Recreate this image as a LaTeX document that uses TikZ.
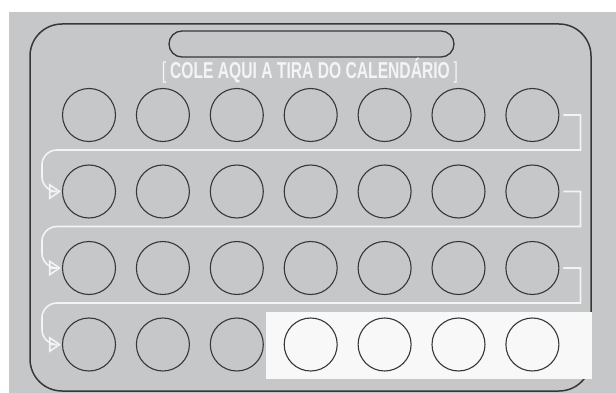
\documentclass[tikz,border=0pt]{standalone}
\usepackage{fontspec}
\newfontfamily\narrowsans[FakeStretch=0.68]{Liberation Sans}
\usepackage{xcolor}
\definecolor{calgray}{RGB}{198,199,201}
\definecolor{lineink}{RGB}{55,55,55}
\definecolor{linkwhite}{RGB}{244,244,244}
\definecolor{stripwhite}{RGB}{247,248,247}
\usetikzlibrary{arrows.meta, calc}

\begin{document}
\begin{tikzpicture}[x=1pt, y=-1pt,
  day/.style={circle, draw=lineink, line width=1.1pt, minimum size=53pt, inner sep=0pt},
  link/.style={draw=linkwhite, line width=1.6pt},
  slot/.style={draw=lineink, line width=1.3pt, rounded corners=13pt, minimum width=285pt, minimum height=26pt, inner sep=0pt}]
  % Page and card
  \fill[white] (0,0) rectangle (616,393);
  \useasboundingbox (0,0) rectangle (616,393);
  \fill[calgray] (9,12) rectangle (616,393);
  \draw[lineink, line width=1.5pt, rounded corners=32pt] (30,24) rectangle (591,391);

  % --- Strip slot and its label ---
  \node[slot] (slot) at (311.5,44) {};
  \node[font=\narrowsans\bfseries\fontsize{23}{23}\selectfont, text=linkwhite, inner sep=1pt]
    (striplabel) at (310,71) {{\mdseries[}\,COLE AQUI A TIRA DO CALENDÁRIO\,{\mdseries]}};

  % Light patch behind the last four days
  \fill[stripwhite] (266,312) rectangle (592,379);

  % --- Day circles, 4 rows of 7 ---
  \foreach \r in {1,...,4}
    \foreach \c in {1,...,7}
      \node[day] (c\r\c) at ({89+73.9*(\c-1)},{115+76.5*(\r-1)}) {};

  % --- Snake from the end of one row to the start of the next ---
  \foreach \r/\n in {1/2,2/3,3/4} {
    \coordinate (hook\r) at ($(c\r7.east)+(21,0)$);
    \coordinate (turn\n) at ($(c\n1.west)+(-20,0)$);
    \draw[link, -{Triangle[open, length=12pt, width=16pt]}]
      ([xshift=4pt]c\r7.east) -- (hook\r) -- ++(0,35) [rounded corners=15pt]
      -| (turn\n) [sharp corners] -- ([xshift=-1pt]c\n1.west);
  }
\end{tikzpicture}
\end{document}
